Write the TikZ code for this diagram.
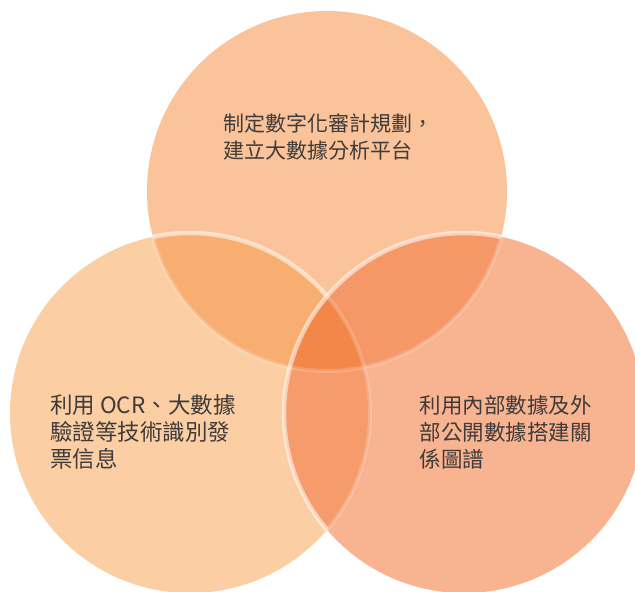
\documentclass[tikz,border=0pt]{standalone}
\usepackage{fontspec}
\newfontfamily\cjk{Noto Sans CJK TC}
\definecolor{colT}{HTML}{FAC399}
\definecolor{colL}{HTML}{FBCFA3}
\definecolor{colR}{HTML}{F8B391}
\definecolor{colTL}{HTML}{F8AE71}
\definecolor{colTR}{HTML}{F69768}
\definecolor{colLR}{HTML}{F69B6B}
\definecolor{colTLR}{HTML}{F3874A}
\definecolor{textgray}{HTML}{3F3B3A}
\begin{document}
\begin{tikzpicture}[x=1pt,y=-1pt,
  ring/.style={draw=white,line width=4.5pt,opacity=0.55},
  faintring/.style={draw=white,line width=4pt,opacity=0.18},
  txt/.style={anchor=base west,inner sep=0pt,text=textgray}]
\clip (0,0) rectangle (635,592);
\fill[white] (0,0) rectangle (635,592);
\def\rad{180}
\coordinate (T) at (327,191);
\coordinate (L) at (190,413);
\coordinate (R) at (464,413);
% top circle
\fill[colT] (T) circle[radius=\rad];
% left circle
\fill[colL] (L) circle[radius=\rad];
\begin{scope}
  \clip (T) circle[radius=\rad];
  \fill[colTL] (L) circle[radius=\rad];
  \draw[ring] (L) circle[radius=\rad];
\end{scope}
% right circle
\fill[colR] (R) circle[radius=\rad];
\begin{scope}
  \clip (T) circle[radius=\rad];
  \fill[colTR] (R) circle[radius=\rad];
\end{scope}
\begin{scope}
  \clip (L) circle[radius=\rad];
  \fill[colLR] (R) circle[radius=\rad];
\end{scope}
\begin{scope}
  \clip (T) circle[radius=\rad];
  \clip (L) circle[radius=\rad];
  \fill[colTLR] (R) circle[radius=\rad];
\end{scope}
\begin{scope}
  \clip (T) circle[radius=\rad];
  \draw[ring] (R) circle[radius=\rad];
\end{scope}
\begin{scope}[even odd rule]
  \clip (0,0) rectangle (635,592) (T) circle[radius=\rad];
  \clip (L) circle[radius=\rad];
  \draw[ring] (R) circle[radius=\rad];
\end{scope}
% faint rings covered by later circles
\begin{scope}
  \clip (L) circle[radius=\rad];
  \draw[faintring] (T) circle[radius=\rad];
\end{scope}
\begin{scope}[even odd rule]
  \clip (0,0) rectangle (635,592) (L) circle[radius=\rad];
  \clip (R) circle[radius=\rad];
  \draw[faintring] (T) circle[radius=\rad];
\end{scope}
\begin{scope}
  \clip (R) circle[radius=\rad];
  \draw[faintring] (L) circle[radius=\rad];
\end{scope}
% texts
\node[txt,font=\cjk\fontsize{21}{27}\selectfont] (t1) at (223,131) {制定數字化審計規劃，};
\node[txt,font=\cjk\fontsize{21}{27}\selectfont] (t2) at (223,158) {建立大數據分析平台};
\node[txt,font=\cjk\fontsize{22.5}{27}\selectfont] (l1) at (50,413.5) {利用 OCR、大數據};
\node[txt,font=\cjk\fontsize{22.5}{27}\selectfont] (l2) at (50,440.5) {驗證等技術識別發};
\node[txt,font=\cjk\fontsize{22.5}{27}\selectfont] (l3) at (50,467.5) {票信息};
\node[txt,font=\cjk\fontsize{21.5}{27}\selectfont] (r1) at (419.5,413.5) {利用內部數據及外};
\node[txt,font=\cjk\fontsize{21.5}{27}\selectfont] (r2) at (419.5,440.5) {部公開數據搭建關};
\node[txt,font=\cjk\fontsize{21.5}{27}\selectfont] (r3) at (419.5,467.5) {係圖譜};
\end{tikzpicture}
\end{document}
